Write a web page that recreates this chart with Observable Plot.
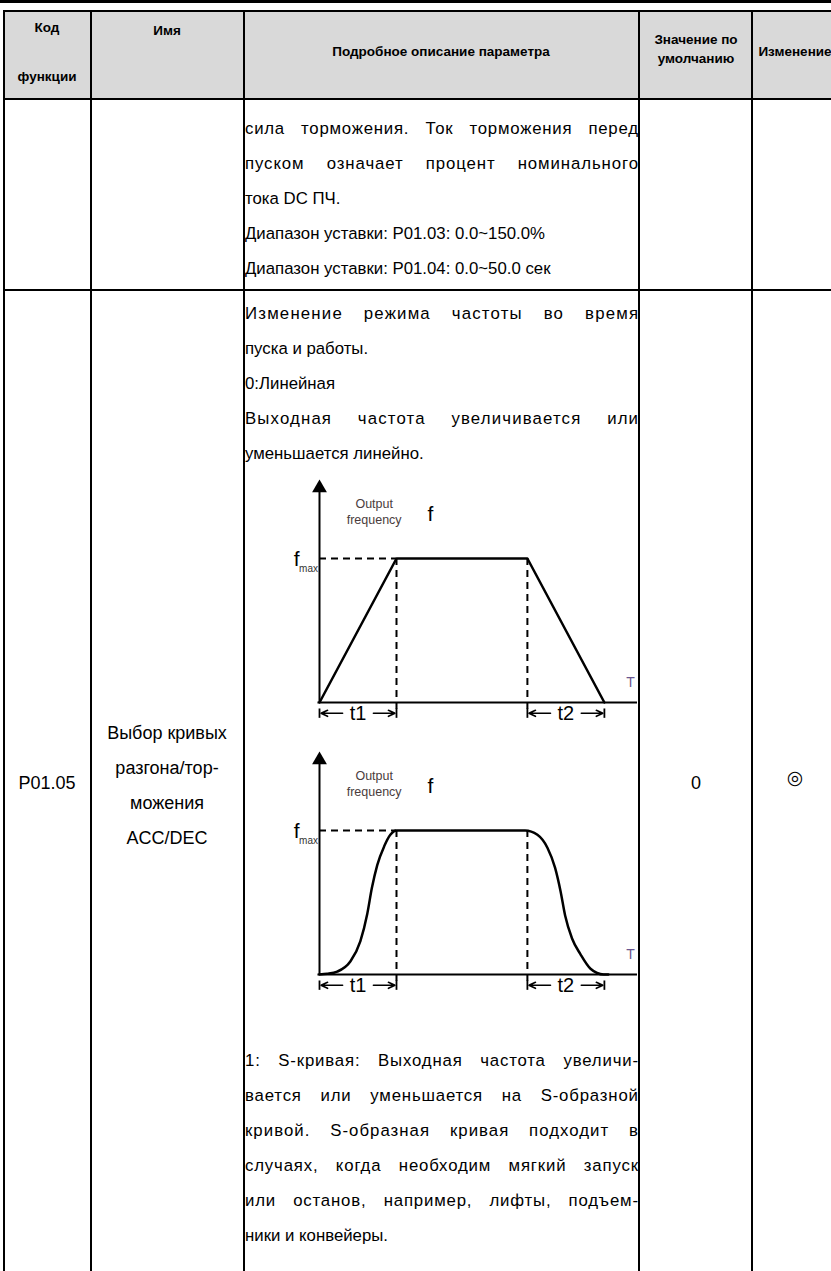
<!DOCTYPE html>
<html><head><meta charset="utf-8">
<script src="https://cdn.jsdelivr.net/npm/d3@7"></script>
<script src="https://cdn.jsdelivr.net/npm/@observablehq/plot@0.6"></script>
<style>
html,body{margin:0;padding:0;background:#fff;}
#page{position:relative;width:831px;height:1271px;overflow:hidden;font-family:"Liberation Sans",Arial,sans-serif;color:#000;}
.rule{position:absolute;background:#000;}
.hdbg{position:absolute;background:#d9d9d9;}
.t{position:absolute;white-space:nowrap;transform:translate(-50%,-50%);line-height:1;}
.hd{font-weight:bold;font-size:13.5px;}
.bd{font-size:18px;}
.desc{position:absolute;left:245px;width:393px;font-size:16.8px;}
.desc .ln{height:35px;line-height:35px;white-space:nowrap;}
.desc .j{text-align:justify;text-align-last:justify;white-space:normal;}
.diag{position:absolute;left:244px;}
</style></head>
<body><div id="page"></div>
<script>
// ---- data ----
const headerLabels = [["Код","функции"],["Имя"],["Подробное описание параметра"],["Значение по","умолчанию"],["Изменение"]];
const row1Lines = ["сила торможения. Ток торможения перед","пуском означает процент номинального","тока DC ПЧ.","Диапазон уставки: P01.03: 0.0~150.0%","Диапазон уставки: P01.04: 0.0~50.0 сек"];
const row1Justify = [true,true,false,false,false];
const paramCode = "P01.05";
const paramName = ["Выбор кривых","разгона/тор-","можения","ACC/DEC"];
const paramDefault = "0";
const paramChange = "◎";
const row2TopLines = ["Изменение режима частоты во время","пуска и работы.","0:Линейная","Выходная частота увеличивается или","уменьшается линейно."];
const row2TopJustify = [true,false,false,true,false];
const row2BottomLines = ["1: S-кривая: Выходная частота увеличи-","вается или уменьшается на  S-образной","кривой. S-образная кривая подходит в","случаях, когда необходим мягкий запуск","или останов, например, лифты, подъем-","ники и конвейеры."];
const row2BottomJustify = [true,true,true,true,true,false];
// diagram values (time in units of t1, frequency relative to fmax)
const linearTime = [0, 1.0, 2.7, 3.7];
const linearFreq = [0, 1, 1, 0];
const sTime = [0, 0.1, 0.23, 0.40, 0.53, 0.62, 0.68, 0.75, 0.84, 0.92, 1.0, 2.67, 2.83, 2.96, 3.06, 3.13, 3.19, 3.28, 3.39, 3.52, 3.69, 3.75];
const sFreq = [0, 0.005, 0.02, 0.09, 0.23, 0.42, 0.60, 0.76, 0.89, 0.97, 1.0, 1.0, 0.97, 0.88, 0.74, 0.58, 0.41, 0.25, 0.14, 0.04, 0, 0];
const phaseBounds = [1.0, 2.7];          // dashed verticals
const accSpan = [0, 1.0];                 // t1
const decSpan = [2.7, 3.7];               // t2
const axisLabels = {y: ["Output","frequency"], f: "f", fmax: "f", sub: "max", T: "T"};
const spanLabels = ["t1","t2"];
const timeEnd = 4.13;
const arrowTop = 1.49;

// ---- layout ----
const page = document.getElementById("page");
function el(cls, css, html){const d=document.createElement("div");d.className=cls;Object.assign(d.style,css);if(html!=null)d.innerHTML=html;page.appendChild(d);return d;}
const colX = [4, 91, 244, 639, 752, 838];
const rowY = [11, 99, 290, 1290];
el("hdbg",{left:"4px",top:rowY[0]+"px",width:"834px",height:(rowY[1]-rowY[0])+"px"});
el("rule",{left:"0px",top:"0px",width:"831px",height:"3px"});
rowY.slice(0,3).forEach(y=>el("rule",{left:(colX[0]-1)+"px",top:(y-1)+"px",width:"840px",height:"2px"}));
colX.forEach(x=>el("rule",{left:(x-1)+"px",top:(rowY[0]-1)+"px",width:"2px",height:"1300px"}));
const hdPos = [[[47,28],[47,77]],[[167,31]],[[441,52]],[[696,40],[696,59]],[[795,52]]];
headerLabels.forEach((lines,i)=>lines.forEach((s,j)=>el("t hd",{left:hdPos[i][j][0]+"px",top:hdPos[i][j][1]+"px"},s)));
el("t bd",{left:"47px",top:"783px"},paramCode);
paramName.forEach((s,j)=>el("t bd",{left:"167px",top:(733+35*j)+"px"},s));
el("t bd",{left:"696px",top:"783px"},paramDefault);
el("t bd",{left:"795px",top:"777px",fontFamily:"DejaVu Sans",fontSize:"19px"},paramChange);
const lineWidth = 393;
function block(lines, just, top){
  const d = el("desc",{top:top+"px"});
  lines.forEach((s,i)=>{
    const l=document.createElement("div");
    l.className="ln"+(just[i]?" j":"");
    l.textContent=s; d.appendChild(l);
    if(just[i]){
      // spread part of the extra space over the letters, the rest over word gaps
      const probe=document.createElement("span");probe.style.whiteSpace="pre";probe.textContent=s;
      const tmp=document.createElement("div");tmp.className="desc";tmp.style.visibility="hidden";tmp.appendChild(probe);page.appendChild(tmp);
      const w=probe.getBoundingClientRect().width; page.removeChild(tmp);
      const extra=lineWidth-w;
      if(extra>0) l.style.letterSpacing=(0.4*extra/s.length).toFixed(2)+"px";
      l.style.width=(lineWidth+parseFloat(l.style.letterSpacing||0))+"px";
    }
  });
}
block(row1Lines,row1Justify,110.5);
block(row2TopLines,row2TopJustify,295.5);
block(row2BottomLines,row2BottomJustify,1042.5);

// ---- diagrams ----
function diagram(time, freq, curve){
  const prof = time.map((t,i)=>({t, f:freq[i]}));
  const spans = [accSpan, decSpan].map((s,i)=>({a:s[0], b:s[1], m:(s[0]+s[1])/2, label:spanLabels[i]}));
  const ends = [...accSpan, ...decSpan];
  return Plot.plot({
    width: 395, height: 260,
    marginLeft: 75, marginRight: 2, marginTop: 88, marginBottom: 28,
    style: {background:"transparent", fontFamily:"Liberation Sans, Arial, sans-serif", overflow:"visible"},
    x: {domain:[0,timeEnd], axis:null},
    y: {domain:[0,1], axis:null},
    marks: [
      Plot.ruleY([1], {x1:0, x2:phaseBounds[0], stroke:"#000", strokeWidth:2, strokeDasharray:"7,5"}),
      Plot.ruleX(phaseBounds, {y1:1, y2:-0.07, stroke:"#000", strokeWidth:2, strokeDasharray:"7,5"}),
      Plot.ruleY([0], {x1:-0.02, x2:timeEnd, stroke:"#000", strokeWidth:2}),
      Plot.ruleX([0], {y1:0, y2:arrowTop-0.03, stroke:"#000", strokeWidth:2}),
      Plot.dot([0], {x:0, y:arrowTop, symbol:"triangle", r:5.5, fill:"#000", stroke:"none"}),
      Plot.line(prof, {x:"t", y:"f", stroke:"#000", strokeWidth:2.5, curve}),
      Plot.text([axisLabels.y.join("\n")], {x:0.71, y:1.33, text:d=>d, fontSize:12.5, lineHeight:1.25, fill:"#4a3c3c"}),
      Plot.text([axisLabels.f], {x:1.44, y:1.31, text:d=>d, fontSize:21, fill:"#000"}),
      Plot.text([axisLabels.fmax], {x:-0.26, y:1, text:d=>d, fontSize:21, textAnchor:"end", dy:1}),
      Plot.text([axisLabels.sub], {x:-0.02, y:1, text:d=>d, fontSize:10, textAnchor:"end", dy:10, fill:"#333"}),
      Plot.text([axisLabels.T], {x:4.04, y:0.14, text:d=>d, fontSize:14, fill:"#6a5590"}),
      Plot.ruleX(ends, {y1:-0.045, y2:-0.11, stroke:"#000", strokeWidth:1.8}),
      Plot.arrow(spans, {x1:d=>d.m-0.2, x2:d=>d.a+0.02, y1:-0.075, y2:-0.075, headLength:7, headAngle:50, strokeWidth:1.6, stroke:"#000"}),
      Plot.arrow(spans, {x1:d=>d.m+0.2, x2:d=>d.b-0.02, y1:-0.075, y2:-0.075, headLength:7, headAngle:50, strokeWidth:1.6, stroke:"#000"}),
      Plot.text(spans, {x:"m", y:-0.075, text:"label", fontSize:20, fill:"#000"})
    ]
  });
}
const d1 = diagram(linearTime, linearFreq, "linear");
const d2 = diagram(sTime, sFreq, "monotone-x");
el("diag",{top:"470px"}).appendChild(d1);
el("diag",{top:"742px"}).appendChild(d2);
</script>
</body></html>
